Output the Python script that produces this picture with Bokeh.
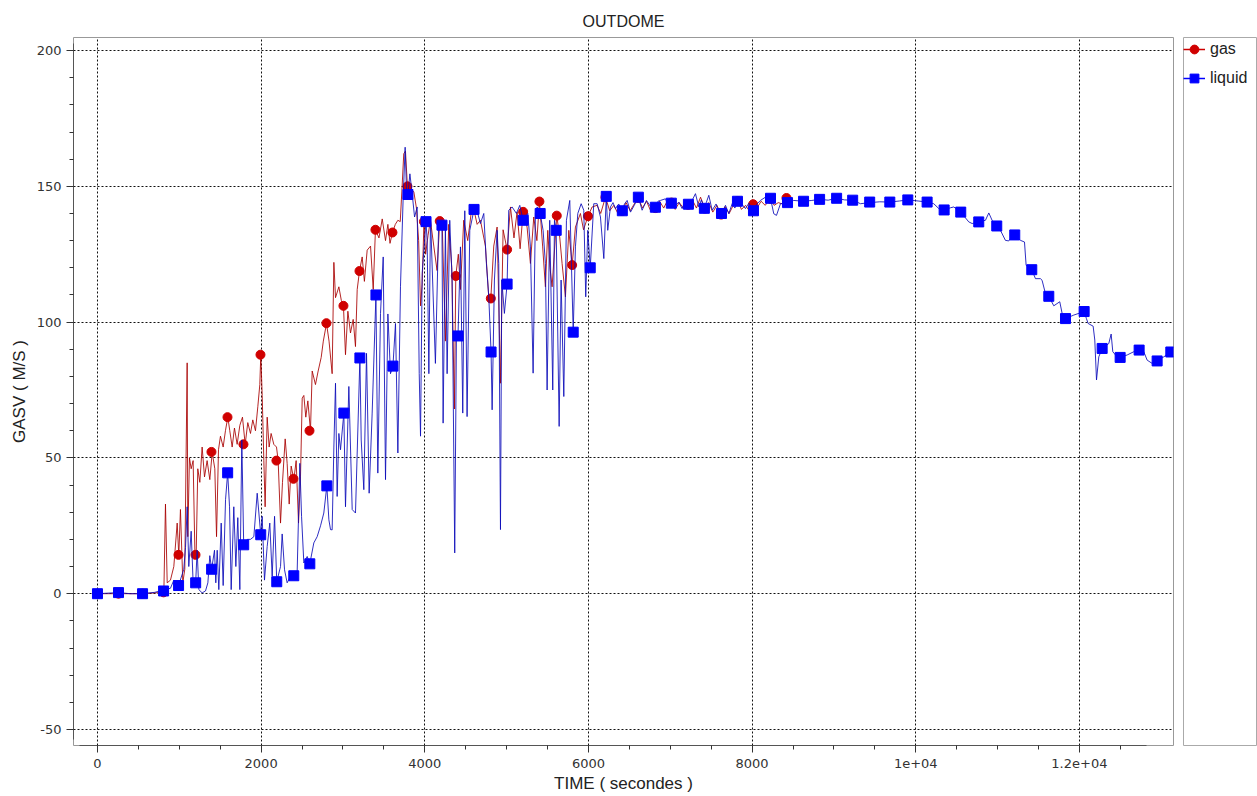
from bokeh.plotting import figure
from bokeh.models import (Range1d, SingleIntervalTicker, ColumnDataSource, Legend, LegendItem)
from bokeh.layouts import row
from bokeh.embed import file_html
from bokeh.resources import INLINE

# ---------------- data ----------------
gas_t = [0, 250, 550, 800, 811, 831, 852, 892, 933, 974, 994, 1014, 1043, 1067, 1096, 1104, 1124, 1145,
         1169, 1190, 1206, 1226, 1251, 1279, 1308, 1340, 1373, 1402, 1434, 1455, 1479, 1503, 1536, 1564,
         1593, 1617, 1646, 1674, 1707, 1740, 1772, 1805, 1837, 1870, 1898, 1931, 1960, 1984, 1996, 2013,
         2033, 2049, 2074, 2098, 2122, 2155, 2188, 2208, 2237, 2261, 2294, 2318, 2343, 2367, 2400, 2428,
         2457, 2481, 2502, 2522, 2546, 2571, 2603, 2624, 2664, 2697, 2734, 2760, 2799, 2830, 2868, 2889,
         2909, 2950, 2980, 3006, 3031, 3060, 3092, 3125, 3153, 3174, 3202, 3235, 3262, 3296, 3337, 3370,
         3397, 3440, 3480, 3520, 3549, 3575, 3605, 3640, 3671, 3700, 3723, 3743, 3764, 3788, 3825, 3866,
         3898, 3925, 3948, 3968, 3990, 4010, 4040, 4069, 4110, 4150, 4183, 4215, 4252, 4293, 4330, 4362,
         4379, 4410, 4436, 4476, 4525, 4566, 4600, 4640, 4680, 4741, 4782, 4807, 4843, 4884, 4925, 4957,
         5006, 5047, 5090, 5128, 5165, 5202, 5250, 5291, 5332, 5370, 5401, 5440, 5474, 5503, 5530, 5556,
         5613, 5650, 5678, 5719, 5760, 5801, 5841, 5902, 5940, 5995, 6045, 6106, 6150, 6208, 6260, 6310,
         6360, 6412, 6460, 6510, 6560, 6611, 6660, 6710, 6760, 6819, 6870, 6920, 6970, 7015, 7060, 7110,
         7160, 7218, 7270, 7320, 7370, 7422, 7470, 7520, 7570, 7622, 7670, 7720, 7770, 7825, 7870, 7920,
         7965, 8013, 8060, 8110, 8160, 8225, 8270, 8320, 8370, 8420, 8450]
gas_v = [0, 0, 0, 0.5, 0, 33, 4, 5, 10, 26, 14, 31, 4, 9, 85, 21, 50, 46,
         49, 16, 14, 46, 41, 54, 43, 49, 42, 52, 46, 21, 53, 58, 54, 60,
         65, 60, 54, 61, 55, 62, 65, 55, 63, 59, 64, 60, 69, 77, 88, 73,
         49, 32, 65, 54, 59, 55, 54, 49, 26, 41, 57, 48, 33, 47, 42, 49,
         26, 43, 72, 73, 65, 71, 60, 82, 77, 82, 87, 93, 99.5, 93, 81, 122,
         109, 113, 108, 106, 88, 104, 96, 101, 91, 112, 118.8, 124, 115, 126.5, 128, 112,
         134, 131, 138, 130, 136, 129, 133, 136, 137.5, 137, 150, 162, 163, 150, 149, 148,
         142, 130, 106, 114, 137, 125, 132, 137.5, 128, 119, 137.2, 134, 93, 136, 120, 68,
         117, 125, 112, 137.5, 130, 140, 141.4, 136, 137.5, 128, 109, 108.7, 128, 135, 77.5, 134,
         126.7, 142.4, 131, 140.6, 127, 140.6, 135, 121.6, 138.7, 130, 144.4, 128, 113, 133.8, 120, 113,
         139.2, 131, 121.6, 109.3, 133.8, 121, 135, 140, 134, 139, 142.4, 143, 140, 146, 141, 143,
         140, 140.9, 144, 141, 143.5, 145.7, 142, 144.5, 141, 142, 144.5, 142, 145, 144, 141.5, 144,
         142, 143.2, 145, 142, 146, 141.8, 144, 140.5, 143, 139.6, 142.5, 140, 143, 144.6, 141.5, 143,
         141, 143.4, 142, 144.5, 143, 145.4, 143, 144, 143.5, 145.7, 145]

gas_mt = [0, 257, 551, 808, 990, 1198, 1393, 1589, 1784, 1992, 2187, 2395, 2591, 2798, 3006, 3202,
          3397, 3605, 3788, 3990, 4183, 4379, 4600, 4807, 5006, 5202, 5401, 5613, 5801, 5995, 6208,
          6412, 6611, 6819, 7015, 7218, 7422, 7622, 7825, 8013, 8225, 8420]
gas_mv = [0, 0, 0, 0.5, 14.3, 14.3, 52.2, 65, 55, 88, 49, 42.3, 60, 99.6, 106, 118.8,
          134, 133, 150, 137, 137.2, 117, 141.4, 108.7, 126.7, 140.6, 144.4, 139.2, 121, 139, 146,
          140.9, 145.7, 142, 144, 143.2, 141.8, 139.6, 144.6, 143.4, 145.4, 145.7]

liq_t = [0, 257, 400, 551, 700, 803, 892, 933, 991, 1055, 1076, 1096, 1116, 1145, 1169, 1200, 1218, 1239,
         1279, 1320, 1349, 1373, 1395, 1430, 1446, 1463, 1483, 1512, 1536, 1565, 1591, 1614, 1634, 1666,
         1691, 1715, 1740, 1764, 1787, 1830, 1870, 1911, 1952, 1995, 2013, 2041, 2074, 2106, 2135, 2164,
         2191, 2237, 2257, 2286, 2318, 2359, 2399, 2440, 2473, 2494, 2522, 2563, 2595, 2644, 2685, 2726,
         2766, 2803, 2828, 2848, 2868, 2889, 2909, 2929, 2950, 2970, 3011, 3031, 3072, 3113, 3153, 3207,
         3223, 3255, 3288, 3320, 3357, 3403, 3426, 3459, 3492, 3520, 3549, 3581, 3611, 3642, 3671, 3703,
         3736, 3760, 3777, 3794, 3818, 3846, 3875, 3907, 3932, 3948, 3968, 4015, 4029, 4050, 4070, 4130,
         4171, 4210, 4224, 4252, 4273, 4305, 4334, 4366, 4387, 4406, 4436, 4464, 4489, 4517, 4550, 4602,
         4639, 4680, 4721, 4753, 4782, 4810, 4823, 4851, 4884, 4904, 4925, 4941, 4973, 5006, 5026, 5067,
         5120, 5161, 5202, 5259, 5291, 5324, 5352, 5373, 5410, 5446, 5474, 5495, 5527, 5564, 5585, 5606,
         5642, 5666, 5699, 5731, 5772, 5814, 5841, 5870, 5911, 5943, 5967, 5992, 6022, 6065, 6106, 6147,
         6188, 6218, 6236, 6269, 6300, 6330, 6370, 6414, 6440, 6473, 6514, 6560, 6610, 6656, 6709, 6760,
         6818, 6850, 6880, 6941, 6980, 7013, 7060, 7104, 7145, 7180, 7222, 7267, 7308, 7349, 7380, 7417,
         7440, 7471, 7512, 7560, 7590, 7626, 7675, 7715, 7756, 7790, 7821, 7870, 7919, 7960, 8017, 8060,
         8102, 8163, 8225, 8265, 8298, 8347, 8433, 8510, 8629, 8730, 8825, 8930, 9033, 9130, 9229, 9325,
         9437, 9560, 9683, 9800, 9903, 10030, 10139, 10220, 10282, 10347, 10424, 10465, 10550, 10648,
         10689, 10770, 10852, 10893, 10933, 10990, 11035, 11096, 11137, 11157, 11210, 11280, 11329, 11349,
         11418, 11463, 11524, 11544, 11585, 11626, 11687, 11760, 11789, 11830, 11932, 12058, 12086, 12107,
         12168, 12188, 12209, 12237, 12278, 12359, 12388, 12408, 12461, 12498, 12584, 12665, 12730, 12787,
         12828, 12889, 12950, 13031, 13117]
liq_v = [0, 0.4, 0, 0, 0.5, 1.3, 2, 5, 3, 9, 17, 32, 10, 23, 4, 4, 16, 1.5,
         0.3, 1, 4, 14, 9, 16, 4, 16, 1.5, 26, 3, 34.6, 44.5, 32, 1.5, 32,
         10, 28, 1.5, 56.6, 18, 20, 20, 21, 37, 21.7, 28.5, 5, 17.4, 26, 6.4, 28.5,
         4.4, 10, 22, 8.8, 4, 6.4, 6.6, 7.6, 48, 28.5, 11.3, 13.7, 11, 18.7, 21, 25,
         29.7, 39.7, 27.2, 23.6, 23.5, 54, 77.5, 35.8, 59, 53, 66.5, 32, 76.3, 31, 29.7, 86.8,
         56.6, 38.3, 88.5, 37, 66.5, 110, 44.4, 103.2, 124, 42, 103, 81, 83.8, 99.5, 51.8, 113,
         146, 164.4, 148.5, 147, 154.6, 147.3, 138.7, 142.4, 81, 58, 118, 137, 130, 81, 138.7, 84.8,
         137.5, 135.7, 62.8, 135, 81, 137.5, 115.5, 15, 95.8, 94.9, 127.7, 66.5, 141, 65.2, 133.8, 141.5,
         141, 136.3, 140, 121.6, 109.3, 89, 67.7, 115.5, 133.8, 121.6, 23.6, 115.5, 103.2, 114, 141.2, 142.4,
         140, 143, 137.5, 140, 127.7, 81.2, 140, 142.4, 140, 133.8, 121.6, 75, 137.5, 75, 137.5, 133.8,
         61.6, 115.5, 72.6, 137.5, 144.8, 96.3, 127.7, 140, 143.6, 141.2, 109.3, 133.8, 120, 143.6, 143.6, 138.7,
         123.4, 146.3, 133.8, 142.4, 144, 141.8, 143.5, 141, 143.5, 144.8, 140.5, 143, 146, 141.2, 144.8, 142.5,
         142.3, 144.5, 144.8, 145.4, 142.8, 143.8, 142.8, 144.2, 141.8, 144.5, 143.4, 144.8, 147.3, 142.4, 145, 141.9,
         144, 146.7, 141.2, 143.5, 141, 140, 143, 139.9, 143.6, 142, 144.5, 143.6, 141.8, 143.8, 141, 143.5,
         144.8, 146, 145.6, 139.9, 139.3, 143.6, 144, 144.8, 144.5, 144.8, 145.2, 144.9, 145.6, 145, 144.9, 143.6,
         144, 144.3, 144.2, 144.6, 145, 144.6, 144.2, 143.6, 141.8, 141.3, 142.1, 142.4, 140.5, 136.9,
         136.3, 136.9, 137.5, 140.2, 137.5, 135.4, 133.8, 130.1, 129.9, 130.7, 132.1, 130.1, 129.5, 120.9,
         119.3, 116, 116, 115.4, 110.5, 109.5, 106, 107.5, 103.2, 101.3, 102.6, 103.9, 101.3, 99.5,
         98.5, 93.4, 78.7, 87.2, 90.3, 92.1, 95.6, 89.1, 87.2, 87, 87.9, 89.1, 89.7, 89.1,
         86, 84.8, 85.7, 87.2, 89]

liq_mt = [0, 257, 551, 808, 991, 1200, 1395, 1591, 1787, 1995, 2191, 2399, 2595, 2803, 3011, 3207,
          3403, 3611, 3794, 4015, 4210, 4406, 4602, 4810, 5006, 5202, 5410, 5606, 5814, 6022, 6218,
          6414, 6610, 6818, 7013, 7222, 7417, 7626, 7821, 8017, 8225, 8433, 8629, 8825, 9033, 9229,
          9437, 9683, 9903, 10139, 10347, 10550, 10770, 10990, 11210, 11418, 11626, 11830, 12058,
          12278, 12498, 12730, 12950, 13117]
liq_mv = [0, 0.4, 0, 1, 3, 4, 9, 44.5, 18, 21.7, 4.4, 6.6, 11, 39.7, 66.5, 86.8,
          110, 83.8, 147, 137, 135.7, 94.9, 141.5, 89, 114, 137.5, 140, 133.8, 96.3, 120, 146.3,
          141, 146, 142.3, 143.8, 143.4, 141.9, 140, 144.5, 141, 145.6, 144, 144.5, 145.2, 145.6, 144.9,
          144.2, 144.2, 145, 144.2, 141.3, 140.5, 136.9, 135.4, 132.1, 119.3, 109.5, 101.3, 103.9,
          90.3, 87, 89.7, 85.7, 89]

x_ticks_override = {10000: "1e+04", 12000: "1.2e+04"}
y_ticks_override = {-50: "-50"}
title_text = "OUTDOME"
x_label = "TIME ( secondes )"
y_label = "GASV ( M/S )"
series_names = ["gas", "liquid"]

GAS_LINE = "#a80000"
GAS_MARK = "#d00000"
LIQ_LINE = "#0a0ab8"
LIQ_MARK = "#0000ff"
LABEL_FONT = "Liberation Sans"
TICK_FONT = "DejaVu Sans"

# ---------------- main plot ----------------
p = figure(width=1182, height=796, output_backend="svg", toolbar_location=None,
           x_range=Range1d(-293, 13150), y_range=Range1d(-55.9, 204.8),
           min_border_left=73, min_border_right=9, min_border_top=37, min_border_bottom=50,
           background_fill_color="white", border_fill_color="white")
p.outline_line_color = "#999999"
p.outline_line_width = 1

p.title.text = title_text
p.title.align = "center"
p.title.text_font = LABEL_FONT
p.title.text_font_size = "16px"
p.title.text_font_style = "normal"
p.title.text_color = "#222222"
p.title.standoff = 15

p.xaxis.ticker = SingleIntervalTicker(interval=2000, num_minor_ticks=4)
p.yaxis.ticker = SingleIntervalTicker(interval=50, num_minor_ticks=5)
p.xaxis.major_label_overrides = x_ticks_override
p.yaxis.major_label_overrides = y_ticks_override
p.xaxis.bounds = (-220, 12820)
p.yaxis.bounds = (-53.7, 202.6)

for ax in (p.xaxis, p.yaxis):
    ax.axis_line_color = "#555555"
    ax.axis_line_width = 1
    ax.major_tick_line_color = "#333333"
    ax.minor_tick_line_color = "#333333"
    ax.major_tick_out = 7
    ax.major_tick_in = 0
    ax.minor_tick_out = 4
    ax.minor_tick_in = 0
    ax.major_label_text_font = TICK_FONT
    ax.major_label_text_font_size = "13px"
    ax.major_label_text_color = "#333333"
    ax.axis_label_text_font = LABEL_FONT
    ax.axis_label_text_font_size = "17px"
    ax.axis_label_text_font_style = "normal"
    ax.axis_label_text_color = "#222222"

p.xaxis.axis_label = x_label
p.yaxis.axis_label = y_label
p.xaxis.major_label_standoff = 6
p.xaxis.axis_label_standoff = 3
p.yaxis.major_label_standoff = 5
p.yaxis.axis_label_standoff = 5

for g in (p.xgrid, p.ygrid):
    g.grid_line_color = "#111111"
    g.grid_line_dash = "2 2"
    g.grid_line_width = 1

gas_src = ColumnDataSource(data=dict(t=gas_t, v=gas_v))
gas_msrc = ColumnDataSource(data=dict(t=gas_mt, v=gas_mv))
liq_src = ColumnDataSource(data=dict(t=liq_t, v=liq_v))
liq_msrc = ColumnDataSource(data=dict(t=liq_mt, v=liq_mv))

p.line("t", "v", source=gas_src, line_color=GAS_LINE, line_width=1, line_alpha=0.85)
p.scatter("t", "v", source=gas_msrc, marker="circle", size=9, fill_color=GAS_MARK,
          line_color=GAS_MARK)
p.line("t", "v", source=liq_src, line_color=LIQ_LINE, line_width=1, line_alpha=0.85)
p.scatter("t", "v", source=liq_msrc, marker="square", size=10, fill_color=LIQ_MARK,
          line_color=LIQ_MARK)

# ---------------- legend panel (separate box, same data sources, data kept out of view) ----------------
p2 = figure(width=75, height=796, output_backend="svg", toolbar_location=None,
            x_range=Range1d(-20, -10), y_range=Range1d(-20, -10),
            x_axis_type=None, y_axis_type=None,
            min_border_left=1, min_border_right=0, min_border_top=37, min_border_bottom=51,
            background_fill_color="white", border_fill_color="white")
p2.outline_line_color = "#aaaaaa"
p2.xgrid.visible = False
p2.ygrid.visible = False
lg1 = p2.line("t", "v", source=gas_src, line_color="#cc0000", line_width=1.5)
lg2 = p2.scatter("t", "v", source=gas_msrc, marker="circle", size=7, fill_color=GAS_MARK, line_color=GAS_MARK)
ll1 = p2.line("t", "v", source=liq_src, line_color="#0000ff", line_width=1.5)
ll2 = p2.scatter("t", "v", source=liq_msrc, marker="square", size=7, fill_color=LIQ_MARK, line_color=LIQ_MARK)
legend = Legend(items=[LegendItem(label=series_names[0], renderers=[lg1, lg2]),
                       LegendItem(label=series_names[1], renderers=[ll1, ll2])],
                location="top_left", border_line_color=None, background_fill_alpha=0,
                margin=0, padding=4, spacing=5, glyph_width=22, glyph_height=24,
                label_height=24, label_standoff=5,
                label_text_font=LABEL_FONT, label_text_font_size="16px", label_text_color="#222222")
p2.add_layout(legend)

layout = row(p, p2)
open("out.html", "w").write(file_html(layout, INLINE))
